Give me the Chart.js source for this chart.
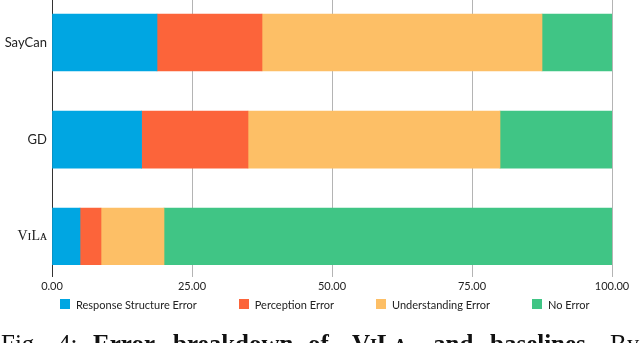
<!DOCTYPE html>
<html>
<head>
<meta charset="utf-8">
<script src="https://cdn.jsdelivr.net/npm/chart.js@4/dist/chart.umd.min.js"></script>
<style>
  html, body { margin: 0; padding: 0; background: #fff; overflow: hidden; }
  #wrap { position: relative; width: 640px; height: 343px; overflow: hidden; }
  #chart { position: absolute; left: 0; top: 0; }
  #legend {
    position: absolute; left: 60px; top: 297px; height: 14px;
    display: flex; align-items: center; gap: 42px;
    font-family: 'Lato', sans-serif; font-size: 11px; color: #222; white-space: nowrap;
  }
  .legend-item { display: flex; align-items: center; }
  .legend-box { width: 10px; height: 10px; margin-right: 6px; }
  .cap {
    position: absolute; top: 332px; white-space: nowrap;
    font-family: 'Liberation Serif', serif; font-size: 25px; line-height: 24px; color: #111;
  }
  .cap.b { font-weight: bold; }
  .cap.sc { font-variant: small-caps; }
</style>
</head>
<body>
<div id="wrap">
  <canvas id="chart" width="640" height="343"></canvas>
  <div id="legend"></div>
  <div id="caption"></div>
</div>
<script>
const methods = ['SayCan', 'GD', 'V\u026aL\u1d00'];
const errorTypes = ['Response Structure Error', 'Perception Error', 'Understanding Error', 'No Error'];
const responseStructure = [18.75, 16, 5];
const perception = [18.75, 19, 3.75];
const understanding = [50, 45, 11.25];
const noError = [12.5, 20, 80];
const xTicks = [0, 25, 50, 75, 100];

const colors = ['#00a6e2', '#fc643a', '#fdbf66', '#40c585'];
const series = [responseStructure, perception, understanding, noError];

const datasets = series.map((values, i) => ({
  label: errorTypes[i],
  data: values.map((v, idx) => ({ x: v, y: idx })),
  backgroundColor: colors[i],
  borderWidth: 0,
  barThickness: 57,
}));

new Chart(document.getElementById('chart'), {
  type: 'bar',
  data: { datasets },
  options: {
    indexAxis: 'y',
    responsive: false,
    animation: false,
    devicePixelRatio: 1,
    layout: { padding: { top: 0, left: 0, right: 28, bottom: 48 } },
    scales: {
      x: {
        type: 'linear',
        stacked: true,
        min: 0,
        max: 100,
        afterBuildTicks(scale) {
          scale.ticks = xTicks.map((v) => ({ value: v }));
        },
        afterFit(scale) {
          scale.height = 30;
          scale.paddingLeft = 0;
          scale.paddingRight = 0;
        },
        border: { display: false },
        grid: {
          color: (ctx) => (ctx.tick && ctx.tick.value === 0 ? '#333333' : '#b4b4b4'),
          lineWidth: 1,
          tickLength: 12,
          drawTicks: true,
        },
        ticks: {
          padding: 3,
          color: '#222',
          font: { family: 'Lato', size: 11 },
          callback: (v) => Number(v).toFixed(2),
        },
      },
      y: {
        type: 'linear',
        stacked: true,
        reverse: true,
        offset: false,
        min: -0.4377,
        max: 2.2915,
        afterBuildTicks(scale) {
          scale.ticks = methods.map((m, i) => ({ value: i }));
        },
        afterFit(scale) {
          scale.width = 52;
          scale.paddingTop = 0;
          scale.paddingBottom = 0;
        },
        border: { display: false },
        grid: { display: false, drawTicks: false },
        ticks: {
          padding: 5,
          color: '#222',
          font: (ctx) => (ctx.tick && ctx.tick.value === 2
            ? { family: 'Liberation Serif', size: 14 }
            : { family: 'Lato', size: 13 }),
          callback: (v) => methods[v],
        },
      },
    },
    plugins: {
      legend: { display: false },
      tooltip: { enabled: false },
    },
  },
});

document.getElementById('legend').innerHTML = errorTypes
  .map((label, i) => `
    <div class="legend-item">
      <span class="legend-box" style="background:${colors[i]}"></span>
      <span>${label}</span>
    </div>
  `)
  .join('');

// caption words placed where the justified line puts them
const captionWords = [
  { text: 'Fig.', x: 1, cls: '' },
  { text: '4:', x: 58, cls: '' },
  { text: 'Error', x: 93, cls: 'b' },
  { text: 'breakdown', x: 173, cls: 'b' },
  { text: 'of', x: 308, cls: 'b' },
  { text: 'ViLa', x: 352, cls: 'b sc' },
  { text: 'and', x: 433, cls: 'b' },
  { text: 'baselines.', x: 490, cls: 'b' },
  { text: 'By', x: 610, cls: '' },
];
document.getElementById('caption').innerHTML = captionWords
  .map((w) => `<span class="cap ${w.cls}" style="left:${w.x}px">${w.text}</span>`)
  .join('');
</script>
</body>
</html>
